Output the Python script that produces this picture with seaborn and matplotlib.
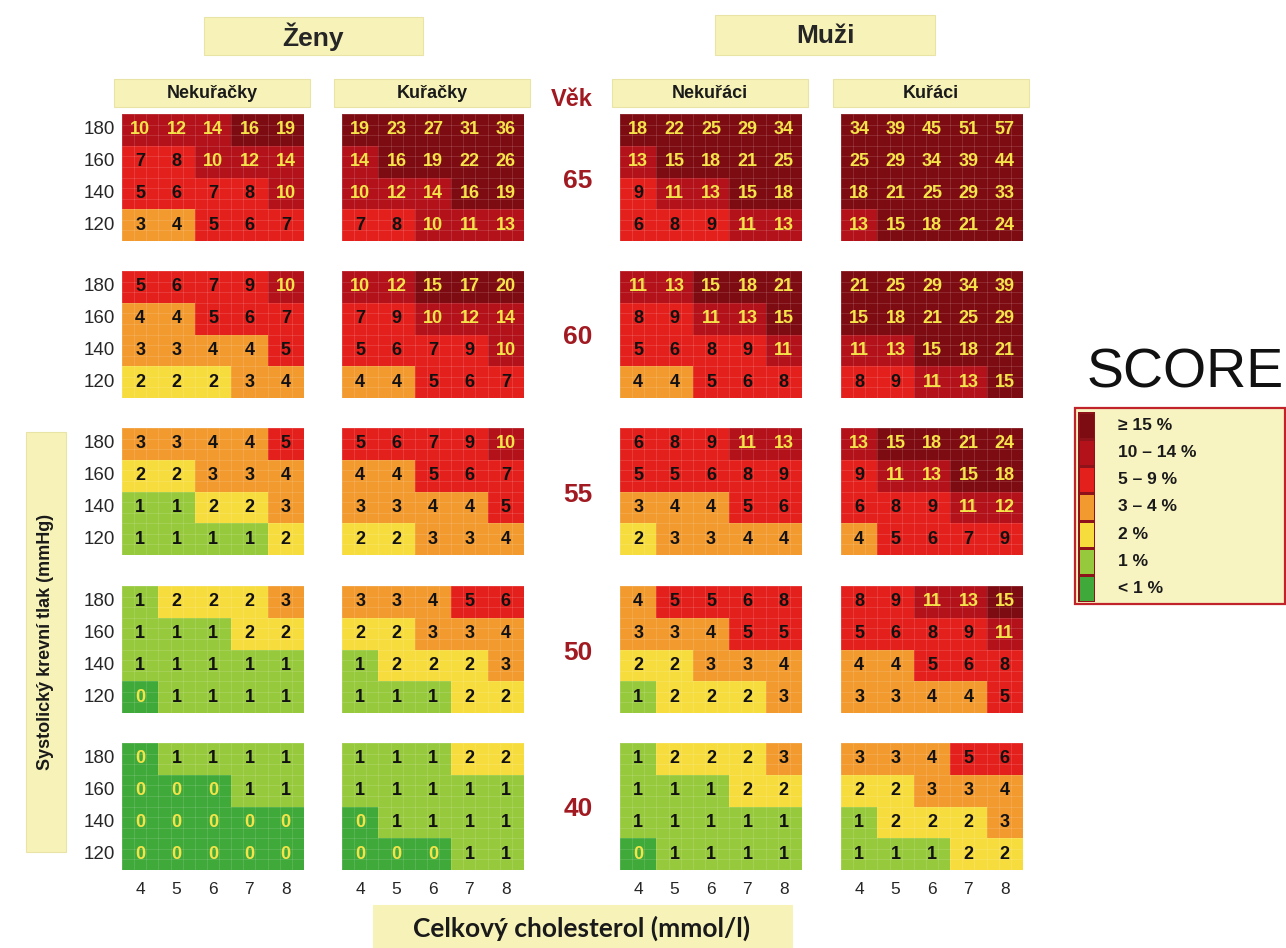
import numpy as np
import pandas as pd
import matplotlib
matplotlib.use("Agg")
import matplotlib.pyplot as plt
import seaborn as sns
from matplotlib.colors import ListedColormap, BoundaryNorm
from matplotlib.patches import Rectangle

# --- data -----------------------------------------------------------------
ages = [65, 60, 55, 50, 40]
sbp = [180, 160, 140, 120]
chol = [4, 5, 6, 7, 8]

# each list: one 4x5 block per age (rows = tlak 180..120, cols = cholesterol 4..8)
zeny_nekuracky = [
    [[10, 12, 14, 16, 19], [7, 8, 10, 12, 14], [5, 6, 7, 8, 10], [3, 4, 5, 6, 7]],
    [[5, 6, 7, 9, 10], [4, 4, 5, 6, 7], [3, 3, 4, 4, 5], [2, 2, 2, 3, 4]],
    [[3, 3, 4, 4, 5], [2, 2, 3, 3, 4], [1, 1, 2, 2, 3], [1, 1, 1, 1, 2]],
    [[1, 2, 2, 2, 3], [1, 1, 1, 2, 2], [1, 1, 1, 1, 1], [0, 1, 1, 1, 1]],
    [[0, 1, 1, 1, 1], [0, 0, 0, 1, 1], [0, 0, 0, 0, 0], [0, 0, 0, 0, 0]],
]
zeny_kuracky = [
    [[19, 23, 27, 31, 36], [14, 16, 19, 22, 26], [10, 12, 14, 16, 19], [7, 8, 10, 11, 13]],
    [[10, 12, 15, 17, 20], [7, 9, 10, 12, 14], [5, 6, 7, 9, 10], [4, 4, 5, 6, 7]],
    [[5, 6, 7, 9, 10], [4, 4, 5, 6, 7], [3, 3, 4, 4, 5], [2, 2, 3, 3, 4]],
    [[3, 3, 4, 5, 6], [2, 2, 3, 3, 4], [1, 2, 2, 2, 3], [1, 1, 1, 2, 2]],
    [[1, 1, 1, 2, 2], [1, 1, 1, 1, 1], [0, 1, 1, 1, 1], [0, 0, 0, 1, 1]],
]
muzi_nekuraci = [
    [[18, 22, 25, 29, 34], [13, 15, 18, 21, 25], [9, 11, 13, 15, 18], [6, 8, 9, 11, 13]],
    [[11, 13, 15, 18, 21], [8, 9, 11, 13, 15], [5, 6, 8, 9, 11], [4, 4, 5, 6, 8]],
    [[6, 8, 9, 11, 13], [5, 5, 6, 8, 9], [3, 4, 4, 5, 6], [2, 3, 3, 4, 4]],
    [[4, 5, 5, 6, 8], [3, 3, 4, 5, 5], [2, 2, 3, 3, 4], [1, 2, 2, 2, 3]],
    [[1, 2, 2, 2, 3], [1, 1, 1, 2, 2], [1, 1, 1, 1, 1], [0, 1, 1, 1, 1]],
]
muzi_kuraci = [
    [[34, 39, 45, 51, 57], [25, 29, 34, 39, 44], [18, 21, 25, 29, 33], [13, 15, 18, 21, 24]],
    [[21, 25, 29, 34, 39], [15, 18, 21, 25, 29], [11, 13, 15, 18, 21], [8, 9, 11, 13, 15]],
    [[13, 15, 18, 21, 24], [9, 11, 13, 15, 18], [6, 8, 9, 11, 12], [4, 5, 6, 7, 9]],
    [[8, 9, 11, 13, 15], [5, 6, 8, 9, 11], [4, 4, 5, 6, 8], [3, 3, 4, 4, 5]],
    [[3, 3, 4, 5, 6], [2, 2, 3, 3, 4], [1, 2, 2, 2, 3], [1, 1, 1, 2, 2]],
]

groups = [zeny_nekuracky, zeny_kuracky, muzi_nekuraci, muzi_kuraci]
group_titles = ["Nekuřačky", "Kuřačky", "Nekuřáci", "Kuřáci"]

legend_labels = ["≥ 15 %", "10 – 14 %", "5 – 9 %", "3 – 4 %", "2 %", "1 %", "< 1 %"]
legend_levels = [20, 12, 7, 3, 2, 1, 0]

# colour classes of the SCORE chart
score_colors = ["#3fa93a", "#97c93d", "#f6dc3c", "#f29a2e", "#e3201c", "#b3121b", "#7d0b12"]
bounds = [-0.5, 0.5, 1.5, 2.5, 4.5, 9.5, 14.5, 100]
cmap = ListedColormap(score_colors)
norm = BoundaryNorm(bounds, cmap.N)

# --- figure ---------------------------------------------------------------
sns.set_style("white")
plt.rcParams["font.family"] = ["Liberation Sans", "DejaVu Sans"]

W, H = 1286, 948
fig = plt.figure(figsize=(W / 100, H / 100), dpi=100)
fig.patch.set_facecolor("white")

def fx(x):
    return x / W

def fy(y):
    return 1 - y / H

box_color = "#f7f3b8"
dark_red = "#a11a21"
num_yellow = "#f4e44a"

def add_box(x0, y0, x1, y1, fc=box_color, ec="#e9e3a6", lw=0.8):
    # zorder below the axes so boxes never hide a heatmap
    fig.patches.append(Rectangle((fx(x0), fy(y1)), (x1 - x0) / W, (y1 - y0) / H,
                                 transform=fig.transFigure, facecolor=fc,
                                 edgecolor=ec, linewidth=lw, zorder=-5))

col_left = [122, 342, 620, 841]
panel_w = 182
row_top = [114, 271, 428, 586, 743]
panel_h = 127

for gi, group in enumerate(groups):
    for ai, age in enumerate(ages):
        vals = np.array(group[ai])
        df = pd.DataFrame(vals, index=sbp, columns=chol)
        ax = fig.add_axes([fx(col_left[gi]), fy(row_top[ai] + panel_h),
                           panel_w / W, panel_h / H])
        sns.heatmap(df, ax=ax, cmap=cmap, norm=norm, cbar=False, annot=True, fmt="d",
                    annot_kws={"fontsize": 13, "fontweight": "bold"},
                    xticklabels=chol if ai == len(ages) - 1 else False,
                    yticklabels=sbp if gi == 0 else False)
        for txt, v in zip(ax.texts, vals.ravel()):
            txt.set_color("#111111" if 1 <= v <= 9 else num_yellow)
        # faint sub-grid like the printed chart
        for v in np.arange(0, 5.01, 1 / 3):
            ax.axvline(v, color="white", alpha=0.18, lw=0.5)
        for h in np.arange(0, 4.01, 1 / 3):
            ax.axhline(h, color="white", alpha=0.18, lw=0.5)
        ax.set_xlabel("")
        ax.set_ylabel("")
        ax.tick_params(length=0)
        ax.tick_params(axis="y", labelsize=13.5, pad=5, rotation=0)
        ax.tick_params(axis="x", labelsize=12.5, pad=9, rotation=0)

# group headers
for gi, title in enumerate(group_titles):
    x0 = col_left[gi] - 8
    x1 = col_left[gi] + panel_w + 6
    add_box(x0, 79, x1, 107)
    fig.text(fx((x0 + x1) / 2), fy(94), title, ha="center", va="center",
             fontsize=13, fontweight="bold", color="#1a1a1a")

add_box(204, 17, 423, 55)
fig.text(fx(313), fy(37), "Ženy", ha="center", va="center", fontsize=19,
         fontweight="bold")
add_box(715, 15, 935, 55)
fig.text(fx(825), fy(36), "Muži", ha="center", va="center", fontsize=19,
         fontweight="bold")

# ages
fig.text(fx(572), fy(100), "Věk", ha="center", va="center", fontsize=17,
         fontweight="bold", color=dark_red)
for ai, age in enumerate(ages):
    fig.text(fx(578), fy(row_top[ai] + panel_h / 2 + 3), str(age), ha="center",
             va="center", fontsize=19, fontweight="bold", color=dark_red)

# axis labels
add_box(26, 432, 66, 852)
fig.text(fx(46), fy(642), "Systolický krevní tlak (mmHg)", rotation=90,
         ha="center", va="center", fontsize=13, fontweight="bold", color="#1a1a1a")
add_box(373, 905, 792, 948, ec=box_color)
fig.text(fx(582), fy(928), "Celkový cholesterol (mmol/l)", ha="center", va="center",
         fontsize=19, fontweight="bold", family=["Lato", "DejaVu Sans"], color="#1a1a1a")

# SCORE legend
fig.text(fx(1185), fy(374), "SCORE", ha="center", va="center", fontsize=40,
         color="#111111")
add_box(1075, 408, 1285, 604, fc="#f8f4c2", ec="#c0232a", lw=1.6)
lax = fig.add_axes([fx(1078), fy(602), 17 / W, 190 / H])
sns.heatmap(pd.DataFrame({"c": legend_levels}), ax=lax, cmap=cmap, norm=norm,
            cbar=False, xticklabels=False, yticklabels=False,
            linewidths=1, linecolor="#8e1219")
for i, lab in enumerate(legend_labels):
    fig.text(fx(1118), fy(412 + 190 / 7 * (i + 0.5)), lab, ha="left", va="center",
             fontsize=12.5, fontweight="bold", color="#1a1a1a")

fig.savefig("out.png", dpi=100)
